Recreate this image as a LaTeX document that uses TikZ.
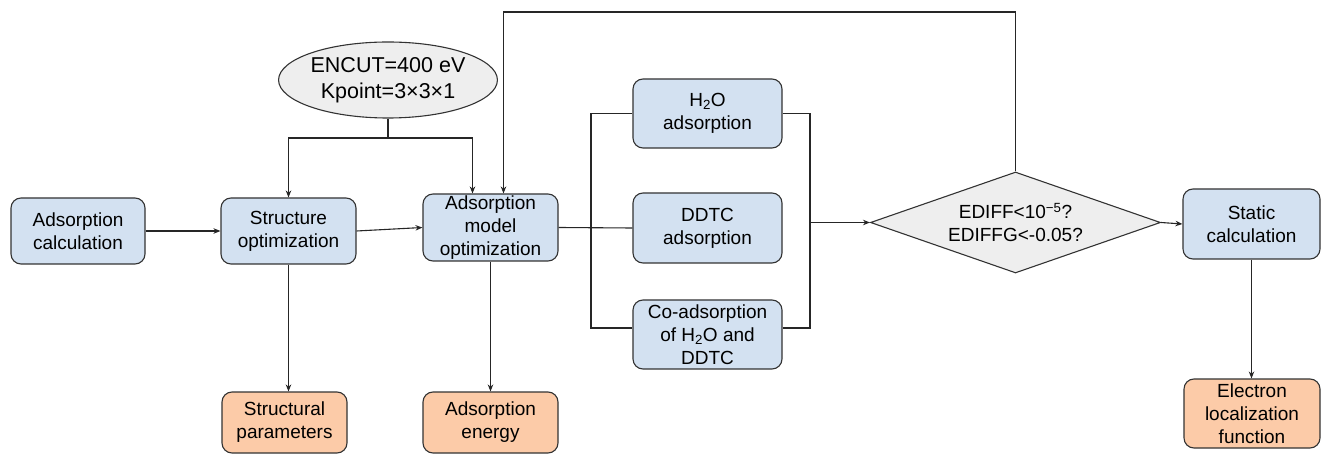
\documentclass[tikz,border=0pt]{standalone}
\usepackage{fontspec}
\setmainfont{Liberation Sans}
\usetikzlibrary{shapes.geometric,arrows.meta}
\definecolor{boxblue}{HTML}{D3E1F1}
\definecolor{boxorange}{HTML}{FCCBA8}
\definecolor{boxgray}{HTML}{EEEEEE}
\definecolor{edge}{HTML}{333333}
\begin{document}
\begin{tikzpicture}[x=1pt,y=-1pt,
  base/.style={draw=edge,line width=1.1pt,align=center,inner sep=0pt,
    font=\fontsize{19}{23}\selectfont},
  bluebox/.style={base,fill=boxblue,rounded corners=10pt},
  orangebox/.style={base,fill=boxorange,rounded corners=10pt},
  conn/.style={draw=black!85,line width=1.1pt},
  arr/.style={conn,-{Stealth[length=7pt,width=5.5pt]}}]
\useasboundingbox (0,0) rectangle (1323,454);
\node[bluebox,minimum width=134,minimum height=66] (ac) at (78,231) {Adsorption\\calculation};
\node[bluebox,minimum width=135,minimum height=66] (so) at (288.5,231) {Structure\\optimization};
\node[bluebox,minimum width=135,minimum height=67] (amo) at (490.5,227.5) {Adsorption\\model\\optimization};
\node[bluebox,minimum width=149,minimum height=69] (h2o) at (707.5,113.5) {H\textsubscript{2}O\\adsorption};
\node[bluebox,minimum width=149,minimum height=70] (ddtc) at (707.5,228) {DDTC\\adsorption};
\node[bluebox,minimum width=149,minimum height=69] (co) at (707.5,334.5) {Co-adsorption\\of H\textsubscript{2}O and\\DDTC};
\node[base,shape=diamond,fill=boxgray,aspect=2.87,minimum width=290,minimum height=101] (dia) at (1015.5,222.5) {EDIFF<10\textsuperscript{−5}?\\EDIFFG<-0.05?};
\node[bluebox,minimum width=137,minimum height=70] (sc) at (1251.5,224) {Static\\calculation};
\node[orangebox,minimum width=125,minimum height=61] (sp) at (284.5,422.5) {Structural\\parameters};
\node[orangebox,minimum width=135,minimum height=61] (ae) at (490.5,422.5) {Adsorption\\energy};
\node[orangebox,minimum width=136,minimum height=69] (elf) at (1252,413.5) {Electron\\localization\\function};
\node[base,shape=ellipse,fill=boxgray,minimum width=200,minimum height=76,font=\fontsize{21.5}{26}\selectfont] (ell) at (388,80) {ENCUT=400 eV\\Kpoint=3×3×1};
\coordinate (ej) at (ell.south |- 0,138);
\coordinate (fb) at (dia.north |- 0,12);
\coordinate (lb) at (591,0);
\coordinate (rb) at (810,0);
% connectors
\draw[arr] (ac.east) -- (so.west);
\draw[arr] (so.east) -- (amo.west);
\draw[conn] (ell.south) -- (ej);
\draw[arr] (ej) -| (so.north);
\draw[arr] (ej) -| ([xshift=-18pt]amo.north);
\draw[arr] (dia.north) -- (fb) -| ([xshift=13pt]amo.north);
\draw[conn] (amo.east) -- (ddtc.west);
\draw[conn] (h2o.west) -| ([yshift=6.5pt]lb |- co.west) -- ([yshift=6.5pt]co.west);
\draw[conn] (h2o.east) -| ([yshift=6.5pt]rb |- co.east) -- ([yshift=6.5pt]co.east);
\draw[arr] (rb |- dia.west) -- (dia.west);
\draw[arr] (dia.east) -- (sc.west);
\draw[arr] (so.south) -- (so.south |- sp.north);
\draw[arr] (amo.south) -- (amo.south |- ae.north);
\draw[arr] (sc.south) -- (sc.south |- elf.north);
\end{tikzpicture}
\end{document}
